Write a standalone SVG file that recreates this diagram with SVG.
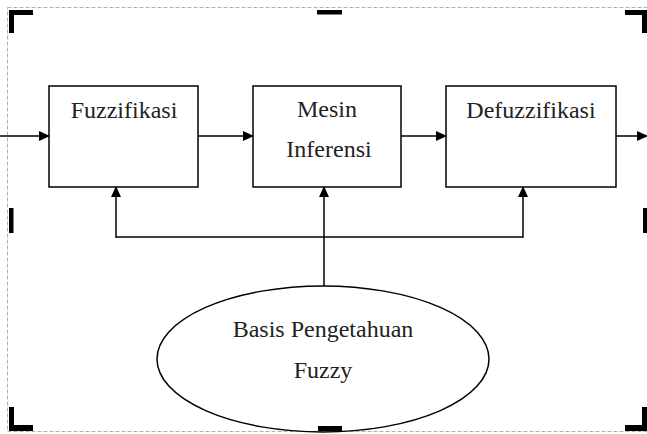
<svg xmlns="http://www.w3.org/2000/svg" width="647" height="434" viewBox="0 0 647 434">
<style>
.box{fill:#fff;stroke:#000;stroke-width:1.5}
.ln{fill:none;stroke:#000;stroke-width:1.5}
.t{font-family:"Liberation Serif","Times New Roman",serif;font-size:24px;fill:#222;text-anchor:middle}
.mk{fill:#000}
.frame{fill:none;stroke:#9fb6c8;stroke-width:1;stroke-dasharray:4,2}
</style>
<defs>
<marker id="ah" markerWidth="11" markerHeight="10" refX="10" refY="5" orient="auto" markerUnits="userSpaceOnUse">
<path d="M0,0 L11,5 L0,10 Z" fill="#000"/>
</marker>
</defs>
<rect width="647" height="434" fill="#fff"/>
<g id="frame">
<rect class="frame" x="7.5" y="7.5" width="645" height="424"/>
<path class="mk" d="M9,10 H33 V15 H14 V33 H9 Z"/>
<path class="mk" d="M625,10 H647 V33 H642 V15 H625 Z"/>
<path class="mk" d="M9,407 H14 V425 H33 V431 H9 Z"/>
<path class="mk" d="M642,407 H647 V431 H625 V425 H642 Z"/>
<rect class="mk" x="317" y="10" width="25" height="4.5"/>
<rect class="mk" x="318" y="426" width="24" height="5"/>
<rect class="mk" x="9" y="208" width="4.5" height="25"/>
<rect class="mk" x="643" y="208" width="4" height="25"/>
</g>
<g id="connectors">
<line class="ln" x1="0" y1="136" x2="49" y2="136" marker-end="url(#ah)"/>
<line class="ln" x1="198" y1="136" x2="253" y2="136" marker-end="url(#ah)"/>
<line class="ln" x1="401" y1="136" x2="446" y2="136" marker-end="url(#ah)"/>
<line class="ln" x1="616" y1="136" x2="647" y2="136" marker-end="url(#ah)"/>
<line class="ln" x1="324" y1="286" x2="324" y2="187" marker-end="url(#ah)"/>
<line class="ln" x1="116" y1="237" x2="523" y2="237"/>
<line class="ln" x1="116" y1="237.75" x2="116" y2="187" marker-end="url(#ah)"/>
<line class="ln" x1="523" y1="237.75" x2="523" y2="187" marker-end="url(#ah)"/>
</g>
<g id="fuzzifikasi">
<rect class="box" x="49" y="86" width="149" height="101"/>
<text class="t" x="124" y="118">Fuzzifikasi</text>
</g>
<g id="mesin-inferensi">
<rect class="box" x="253" y="86" width="148" height="101"/>
<text class="t" x="327" y="117">Mesin</text>
<text class="t" x="329" y="157">Inferensi</text>
</g>
<g id="defuzzifikasi">
<rect class="box" x="446" y="86" width="170" height="101"/>
<text class="t" x="531" y="118">Defuzzifikasi</text>
</g>
<g id="basis-pengetahuan">
<ellipse class="ln" cx="323" cy="359" rx="166" ry="73" fill="#fff"/>
<text class="t" x="323" y="337">Basis Pengetahuan</text>
<text class="t" x="323" y="378">Fuzzy</text>
</g>
</svg>
